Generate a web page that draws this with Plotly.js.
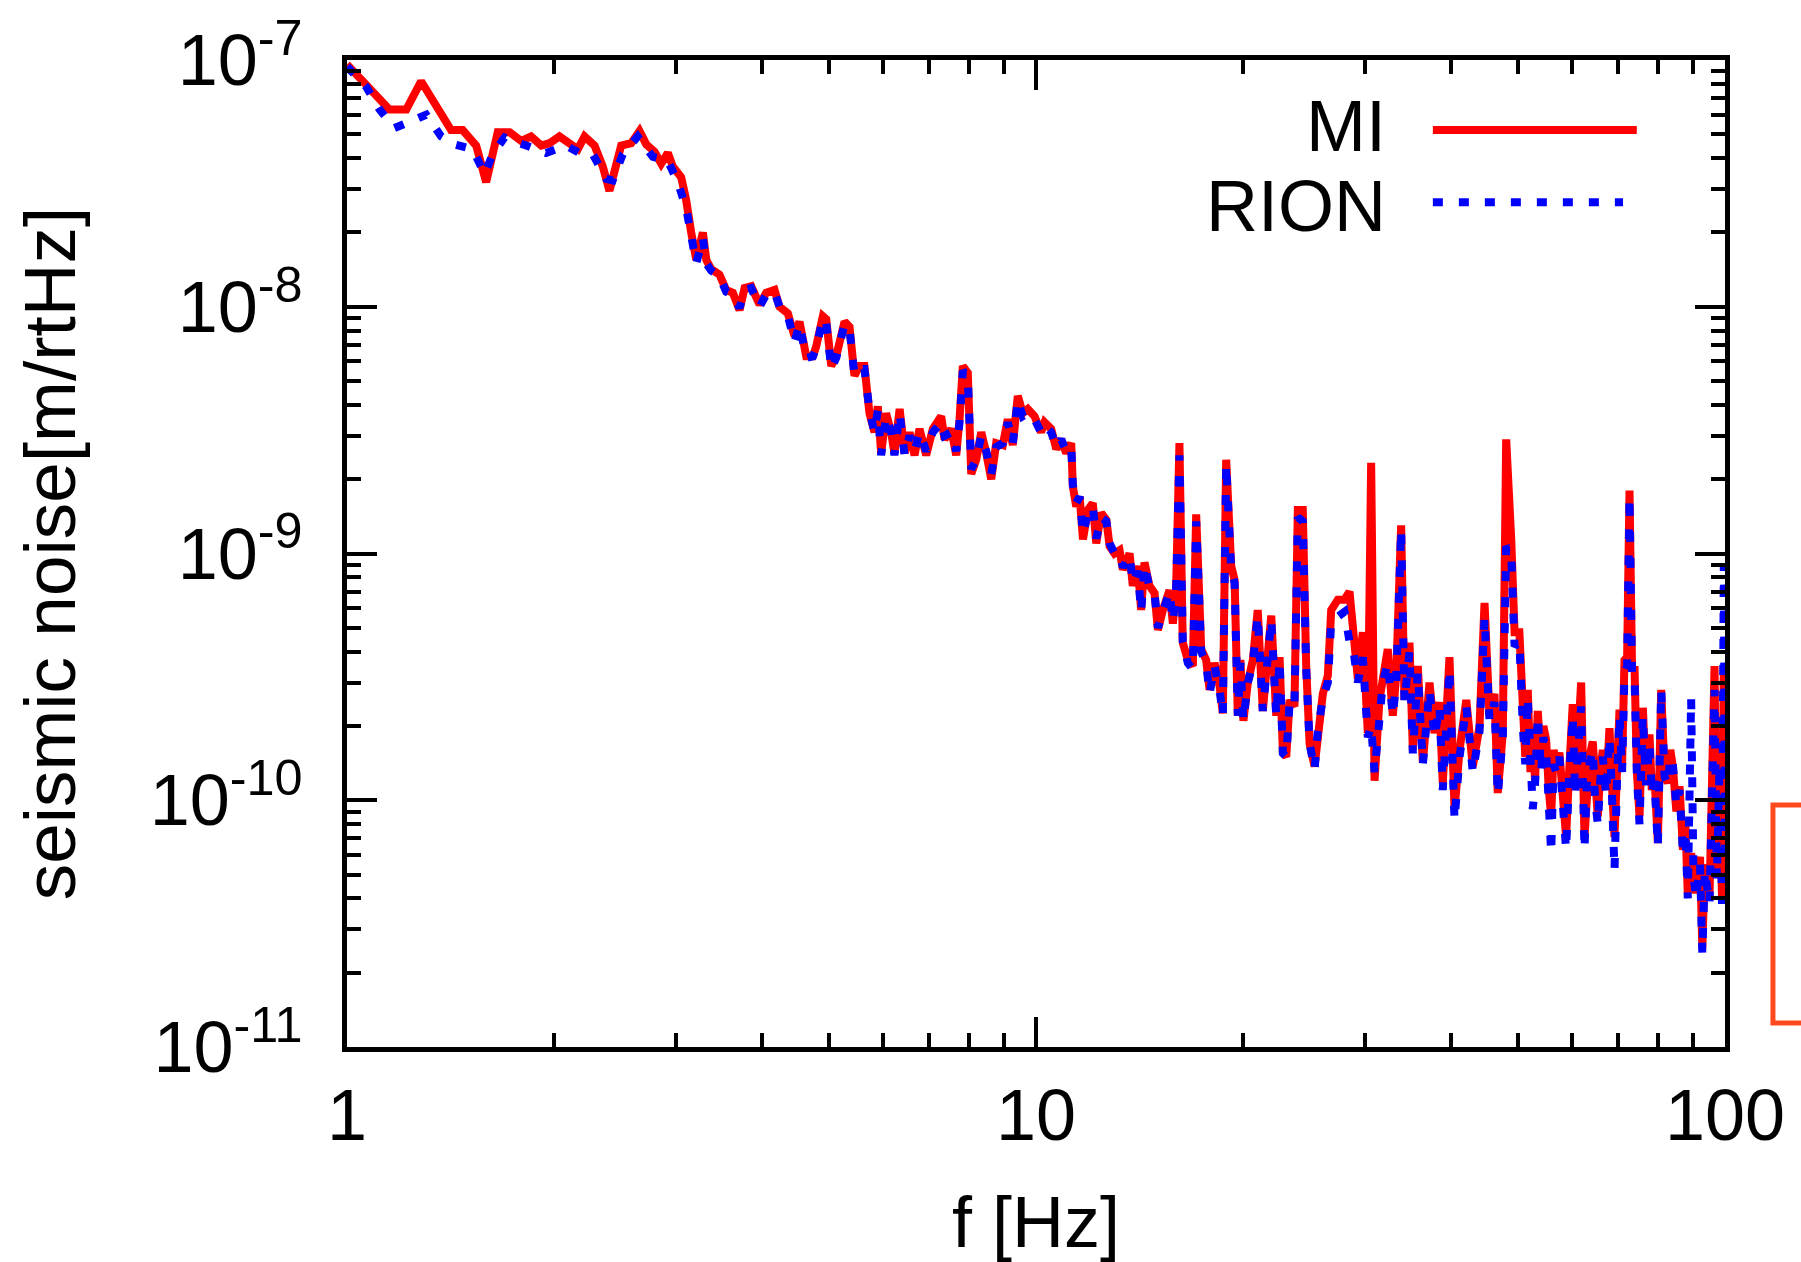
<!DOCTYPE html>
<html>
<head>
<meta charset="utf-8">
<script src="https://cdn.plot.ly/plotly-3.0.1.min.js"></script>
<style>html,body{margin:0;padding:0;background:#fff;}#chart{width:1801px;height:1262px;}</style>
</head>
<body>
<div id="chart"></div>
<script>
// ---------- data ----------
const miFreqLo = [1.0,1.152,1.219,1.281,1.416,1.472,1.54,1.592,1.655,1.722,1.79,1.85,1.914,1.967,2.034,2.103,2.163,2.212,2.287,2.351,2.404,2.5,2.585,2.658,2.719,2.795,2.858,2.922,2.971,3.055,3.107];
const miValLo = [9.6e-8,6.3e-8,6.3e-8,8.2e-8,5.2e-8,5.2e-8,4.5e-8,3.2e-8,5.1e-8,5.1e-8,4.7e-8,4.9e-8,4.5e-8,4.6e-8,4.9e-8,4.6e-8,4.35e-8,4.9e-8,4.5e-8,3.7e-8,2.95e-8,4.5e-8,4.6e-8,5.15e-8,4.55e-8,4.25e-8,3.8e-8,4.2e-8,3.7e-8,3.35e-8,2.7e-8];

const rionFreqLo = [1.0,1.066,1.115,1.172,1.239,1.303,1.37,1.432,1.522,1.584,1.627,1.693,1.82,1.945,2.08,2.175,2.274,2.378,2.43,2.513,2.642,2.779,2.922,3.02,3.107];
const rionValLo = [9.4e-8,7.8e-8,6.3e-8,5.3e-8,5.65e-8,6.0e-8,4.9e-8,4.55e-8,4.35e-8,3.45e-8,4.15e-8,4.85e-8,4.5e-8,4.2e-8,4.5e-8,4.2e-8,4.15e-8,3.3e-8,3.25e-8,4.15e-8,4.9e-8,4.05e-8,3.9e-8,3.2e-8,2.5e-8];

const hiFreq = [
 3.159,3.213,3.285,3.322,3.378,3.472,3.551,3.631,3.713,3.776,
 3.861,3.97,4.059,4.173,4.243,4.363,4.462,4.537,4.64,4.745,
 4.797,4.905,4.961,5.045,5.129,5.274,5.362,5.452,5.543,5.636,
 5.732,5.829,5.894,5.96,6.06,6.163,6.231,6.34,6.446,6.553,
 6.664,6.776,6.928,7.084,7.285,7.366,7.532,7.66,7.745,7.831,
 7.962,8.054,8.189,8.328,8.469,8.61,8.755,8.95,9.1,9.254,
 9.41,9.568,9.73,9.95,10.17,10.29,10.52,10.7,10.88,11.06,
 11.25,11.31,11.44,11.57,11.7,11.89,12.09,12.23,12.43,12.65,
 12.79,13.0,13.22,13.37,13.67,13.82,14.05,14.21,14.37,14.61,
 14.86,15.03,15.28,15.62,15.8,15.97,16.15,16.33,16.61,16.89,
 17.08,17.37,17.66,17.86,18.16,18.47,18.67,18.88,19.2,19.42,
 19.63,19.8,20.0,20.3,20.64,20.98,21.34,21.7,21.95,22.32,
 22.57,22.82,23.08,23.34,23.72,23.99,24.39,24.67,24.95,25.37,
 25.64,26.08,26.52,26.82,27.42,28.04,28.51,28.83,29.32,29.81,
 30.31,30.65,31.0,31.51,31.87,32.4,32.95,33.33,33.88,34.26,
 34.84,35.23,35.82,36.43,37.25,37.88,38.51,38.94,39.82,40.5,
 41.19,42.12,43.05,44.03,44.77,45.52,46.28,46.79,47.59,48.13,
 48.95,49.5,50.3,50.87,51.3,51.73,52.2,52.6,53.0,53.49,
 54.09,54.5,55.0,55.5,55.94,56.4,56.88,57.5,58.1,58.8,
 59.4,60.12,60.6,61.14,61.83,62.53,63.0,63.58,64.28,64.8,
 65.37,65.9,66.47,67.2,67.97,68.5,69.12,69.7,70.29,70.9,
 71.47,72.1,72.68,73.3,73.9,74.5,75.15,75.99,76.8,77.7,
 78.3,79.0,79.9,80.8,81.7,82.6,83.3,84.0,85.0,85.9,
 86.9,87.6,88.3,89.3,90.0,90.8,
 92.0,92.7,93.5,94.95,96.56,97.3,98.2,99.0,99.6,100];

const miValHi = [
 2.0e-8,1.55e-8,2.0e-8,1.55e-8,1.42e-8,1.35e-8,1.17e-8,1.14e-8,9.7e-9,1.19e-8,
 1.21e-8,1.02e-8,1.14e-8,1.17e-8,1.0e-8,9.4e-9,7.6e-9,8.7e-9,6.3e-9,6.3e-9,
 6.9e-9,9.15e-9,8.9e-9,5.75e-9,6.3e-9,8.7e-9,8.3e-9,5.25e-9,5.75e-9,5.75e-9,
 3.7e-9,3.1e-9,3.95e-9,2.55e-9,3.7e-9,3.1e-9,2.55e-9,3.85e-9,2.55e-9,3.1e-9,
 2.5e-9,3.2e-9,2.5e-9,3.2e-9,3.6e-9,2.9e-9,3.2e-9,2.5e-9,3.5e-9,5.75e-9,
 5.4e-9,2.1e-9,2.4e-9,3.1e-9,2.55e-9,2.0e-9,2.8e-9,2.75e-9,3.5e-9,2.75e-9,
 4.35e-9,3.7e-9,3.85e-9,3.6e-9,3.1e-9,3.4e-9,3.2e-9,2.65e-9,2.9e-9,2.55e-9,
 2.8e-9,1.87e-9,1.55e-9,1.7e-9,1.14e-9,1.5e-9,1.6e-9,1.1e-9,1.46e-9,1.37e-9,
 1.07e-9,1.0e-9,1.03e-9,8.6e-10,1.0e-9,7.4e-10,8.9e-10,5.9e-10,9.2e-10,7.4e-10,
 6.9e-10,4.9e-10,5.9e-10,7.1e-10,5.2e-10,7.1e-10,2.8e-9,4.35e-10,3.7e-10,3.5e-10,
 1.44e-9,4.1e-10,3.7e-10,2.8e-10,3.6e-10,2.9e-10,2.25e-10,2.4e-9,8.9e-10,7.8e-10,
 2.2e-10,3.7e-10,2.1e-10,3.0e-10,3.7e-10,5.9e-10,2.3e-10,3.6e-10,5.6e-10,2.2e-10,
 3.8e-10,1.56e-10,1.5e-10,2.55e-10,2.4e-10,1.5e-9,1.5e-9,3.5e-10,1.7e-10,1.37e-10,
 1.93e-10,2.7e-10,3.2e-10,5.9e-10,6.5e-10,6.5e-10,7.0e-10,4.8e-10,3.1e-10,4.8e-10,
 1.87e-10,2.33e-9,1.2e-10,2.55e-10,3.2e-10,4.1e-10,2.2e-10,3.2e-10,1.3e-9,2.55e-10,
 4.35e-10,1.6e-10,3.5e-10,1.42e-10,3.0e-10,1.87e-10,2.5e-10,1.17e-10,3.8e-10,9.2e-11,
 1.6e-10,2.55e-10,1.37e-10,2.0e-10,6.3e-10,2.2e-10,2.7e-10,1.07e-10,1.87e-10,2.9e-9,
 1.14e-9,4.8e-10,4.8e-10,2.1e-10,1.5e-10,2.8e-10,1.3e-10,1.87e-10,1.2e-10,2.3e-10,
 1.37e-10,2.0e-10,1.76e-10,1.1e-10,8.6e-11,1.6e-10,1.37e-10,1.56e-10,1.0e-10,7.1e-11,
 1.3e-10,2.45e-10,1.1e-10,1.6e-10,3.0e-10,7.1e-11,1.2e-10,1.5e-10,1.73e-10,1.05e-10,
 8.6e-11,1.3e-10,1.6e-10,1.1e-10,1.96e-10,1.2e-10,7.1e-11,1.3e-10,2.33e-10,1.4e-10,
 3.7e-10,3.8e-10,1.8e-9,3.4e-10,3.5e-10,1.3e-10,8.6e-11,2.37e-10,1.2e-10,1.85e-10,
 1.1e-10,1.26e-10,6.7e-11,2.8e-10,1.3e-10,1.17e-10,1.6e-10,1.37e-10,9.0e-11,1.14e-10,
 6.3e-11,8.0e-11,4.2e-11,6.1e-11,5.0e-11,4.2e-11,
 5.9e-11,2.5e-11,5.5e-11,4.0e-11,3.5e-10,5.0e-11,1.5e-10,4.0e-11,3.5e-10,6.0e-11];

const rionValHi = [
 2.0e-8,1.5e-8,1.9e-8,1.5e-8,1.4e-8,1.33e-8,1.15e-8,1.12e-8,9.9e-9,1.17e-8,
 1.19e-8,1.0e-8,1.12e-8,1.15e-8,1.0e-8,9.2e-9,7.2e-9,8.5e-9,6.2e-9,6.3e-9,
 6.8e-9,9.0e-9,8.6e-9,5.6e-9,6.2e-9,8.5e-9,8.1e-9,5.3e-9,5.6e-9,5.6e-9,
 3.8e-9,3.1e-9,3.8e-9,2.5e-9,3.6e-9,3.1e-9,2.5e-9,3.7e-9,2.5e-9,3.0e-9,
 2.6e-9,3.1e-9,2.6e-9,3.1e-9,3.4e-9,3.0e-9,3.1e-9,2.6e-9,3.4e-9,5.5e-9,
 5.2e-9,2.2e-9,2.4e-9,3.0e-9,2.6e-9,2.1e-9,2.7e-9,2.8e-9,3.4e-9,2.8e-9,
 4.2e-9,3.6e-9,3.7e-9,3.5e-9,3.1e-9,3.3e-9,3.1e-9,2.7e-9,2.9e-9,2.6e-9,
 2.7e-9,1.9e-9,1.6e-9,1.7e-9,1.2e-9,1.45e-9,1.55e-9,1.15e-9,1.4e-9,1.35e-9,
 1.1e-9,1.0e-9,1.0e-9,8.8e-10,9.8e-10,7.6e-10,8.5e-10,5.8e-10,9.0e-10,7.3e-10,
 6.9e-10,5.0e-10,5.8e-10,7.0e-10,5.3e-10,7.0e-10,2.5e-9,4.4e-10,3.6e-10,3.4e-10,
 1.35e-9,4.0e-10,3.6e-10,2.7e-10,3.5e-10,2.8e-10,2.2e-10,2.3e-9,8.6e-10,7.6e-10,
 2.2e-10,3.6e-10,2.1e-10,3.0e-10,3.6e-10,5.6e-10,2.3e-10,3.5e-10,5.4e-10,2.2e-10,
 3.7e-10,1.55e-10,1.5e-10,2.5e-10,2.4e-10,1.4e-9,1.35e-9,3.4e-10,1.7e-10,1.33e-10,
 1.9e-10,2.6e-10,3.0e-10,5.3e-10,5.6e-10,5.8e-10,4.4e-10,4.2e-10,3.0e-10,3.8e-10,
 1.8e-10,2.0e-10,1.3e-10,2.4e-10,3.0e-10,3.6e-10,2.2e-10,3.0e-10,1.25e-9,2.5e-10,
 4.0e-10,1.55e-10,3.3e-10,1.4e-10,2.8e-10,1.8e-10,2.4e-10,1.1e-10,3.4e-10,8.3e-11,
 1.5e-10,2.4e-10,1.3e-10,1.9e-10,5.5e-10,2.1e-10,2.5e-10,1.05e-10,1.8e-10,1.07e-9,
 1.0e-9,4.2e-10,4.4e-10,2.0e-10,1.4e-10,2.6e-10,1.2e-10,9.2e-11,1.15e-10,2.2e-10,
 1.3e-10,1.8e-10,1.6e-10,1.0e-10,6.1e-11,1.4e-10,1.3e-10,1.5e-10,9.5e-11,6.3e-11,
 1.25e-10,2.2e-10,1.05e-10,1.5e-10,2.4e-10,6.3e-11,1.15e-10,1.4e-10,1.6e-10,1.0e-10,
 8.0e-11,1.2e-10,1.5e-10,1.05e-10,1.8e-10,1.1e-10,5.2e-11,1.2e-10,2.2e-10,1.3e-10,
 3.3e-10,3.5e-10,1.7e-9,3.2e-10,3.2e-10,1.25e-10,8.0e-11,2.2e-10,1.15e-10,1.7e-10,
 1.05e-10,1.2e-10,6.5e-11,2.8e-10,1.25e-10,1.15e-10,1.5e-10,1.4e-10,9.5e-11,1.1e-10,
 6.0e-11,7.5e-11,4.0e-11,2.6e-10,5.0e-11,4.0e-11,
 5.5e-11,2.4e-11,5.2e-11,3.8e-11,2.8e-10,4.8e-11,1.4e-10,3.8e-11,9.0e-10,5.5e-11];

const seriesNames = ['MI', 'RION'];
const xTickVals = [1, 10, 100];
const xTickText = ['1', '10', '100'];
const xMinorVals = [2,3,4,5,6,7,8,9,20,30,40,50,60,70,80,90];
const yTickVals = [1e-11, 1e-10, 1e-9, 1e-8, 1e-7];
const yTickText = ['10<sup>-11</sup>', '10<sup>-10</sup>', '10<sup>-9</sup>', '10<sup>-8</sup>', '10<sup>-7</sup>'];
const yMinorVals = [2e-11,3e-11,4e-11,5e-11,6e-11,7e-11,8e-11,9e-11,
  2e-10,3e-10,4e-10,5e-10,6e-10,7e-10,8e-10,9e-10,
  2e-9,3e-9,4e-9,5e-9,6e-9,7e-9,8e-9,9e-9,
  2e-8,3e-8,4e-8,5e-8,6e-8,7e-8,8e-8,9e-8];

// ---------- traces ----------
const FONT = 'Liberation Sans, Arial, Helvetica, sans-serif';
const RED = '#ff0000', BLUE = '#0000ff';
const BLUE_DASH = '10px,16px';

const traces = [
  {x: miFreqLo.concat(hiFreq), y: miValLo.concat(miValHi), name: seriesNames[0],
   type: 'scatter', mode: 'lines', line: {color: RED, width: 8}, showlegend: false},
  {x: rionFreqLo.concat(hiFreq), y: rionValLo.concat(rionValHi), name: seriesNames[1],
   type: 'scatter', mode: 'lines', line: {color: BLUE, width: 8, dash: BLUE_DASH}, showlegend: false}
];

const axisCommon = {
  type: 'log', showgrid: false, zeroline: false,
  showline: true, linecolor: '#000', linewidth: 5, mirror: 'allticks',
  ticks: 'inside', ticklen: 30, tickwidth: 4, tickcolor: '#000',
  tickmode: 'array',
  tickfont: {family: FONT, size: 72, color: '#000'}
};

const layout = {
  width: 1801, height: 1262,
  paper_bgcolor: '#fff', plot_bgcolor: '#fff',
  margin: {l: 347, r: 76, t: 60, b: 215, pad: 0},
  showlegend: false,
  xaxis: Object.assign({}, axisCommon, {
    range: [0, 2], tickvals: xTickVals, ticktext: xTickText,
    ticklabelstandoff: 2,
    minor: {tickmode: 'array', tickvals: xMinorVals, ticks: 'inside', ticklen: 14, tickwidth: 4, tickcolor: '#000', showgrid: false},
    title: {text: 'f [Hz]', font: {family: FONT, size: 72, color: '#000'}, standoff: 51}
  }),
  yaxis: Object.assign({}, axisCommon, {
    range: [-11, -7], tickvals: yTickVals, ticktext: yTickText,
    ticklabelstandoff: 25,
    minor: {tickmode: 'array', tickvals: yMinorVals, ticks: 'inside', ticklen: 14, tickwidth: 4, tickcolor: '#000', showgrid: false},
    title: {text: 'seismic noise[m/rtHz]', font: {family: FONT, size: 73, color: '#000'}, standoff: 52}
  }),
  annotations: [
    {xref: 'paper', yref: 'paper', x: 0.755, y: 0.9335, xanchor: 'right', yanchor: 'middle', borderpad: 0,
     text: seriesNames[0], showarrow: false, font: {family: FONT, size: 72, color: '#000'}},
    {xref: 'paper', yref: 'paper', x: 0.755, y: 0.8525, xanchor: 'right', yanchor: 'middle', borderpad: 0,
     text: seriesNames[1], showarrow: false, font: {family: FONT, size: 72, color: '#000'}}
  ],
  shapes: [
    {type: 'line', xref: 'paper', yref: 'paper', x0: 0.788, x1: 0.936, y0: 0.929, y1: 0.929,
     line: {color: RED, width: 8}},
    {type: 'line', xref: 'paper', yref: 'paper', x0: 0.788, x1: 0.926, y0: 0.856, y1: 0.856,
     line: {color: BLUE, width: 8, dash: BLUE_DASH}},
    {type: 'rect', xref: 'paper', yref: 'paper', x0: 1.0348, x1: 1.2, y0: 0.0243, y1: 0.2452,
     line: {color: '#ff4a1f', width: 5}, fillcolor: 'rgba(0,0,0,0)'}
  ]
};

Plotly.newPlot('chart', traces, layout, {staticPlot: true, displayModeBar: false});
</script>
</body>
</html>
